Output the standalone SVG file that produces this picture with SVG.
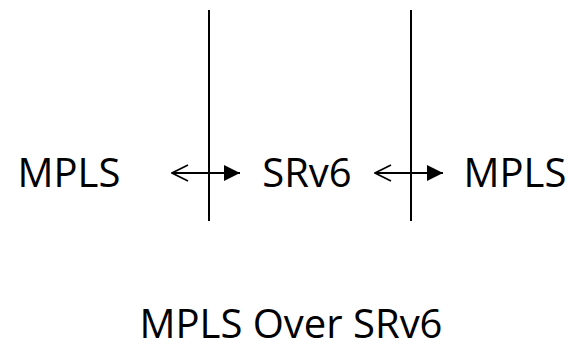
<svg xmlns="http://www.w3.org/2000/svg" width="576" height="347" viewBox="0 0 576 347">
<style>
text{font-family:"Open Sans","Noto Sans","Liberation Sans",sans-serif;font-size:40px;fill:#000;text-anchor:middle}
.ln{stroke:#000;stroke-width:2;fill:none}
</style>
<defs>
<marker id="filled" viewBox="0 0 16 16" refX="16" refY="8" markerWidth="16" markerHeight="16" markerUnits="userSpaceOnUse" orient="auto">
<path d="M0,0 L16,8 L0,16 Z" fill="#000"/>
</marker>
<marker id="open" viewBox="0 0 18 18" refX="1" refY="9" markerWidth="18" markerHeight="18" markerUnits="userSpaceOnUse" orient="auto">
<path d="M17,1 L1,9 L17,17" fill="none" stroke="#000" stroke-width="1.6"/>
</marker>
</defs>
<rect width="576" height="347" fill="#fff"/>
<g id="dividers">
<line class="ln" x1="209" y1="10" x2="209" y2="221"/>
<line class="ln" x1="411" y1="10" x2="411" y2="221"/>
</g>
<g id="mpls-left"><text x="69" y="187">MPLS</text></g>
<g id="srv6"><text x="307" y="187">SRv6</text></g>
<g id="mpls-right"><text x="515" y="187">MPLS</text></g>
<g id="connectors">
<line class="ln" x1="172" y1="173" x2="240" y2="173" marker-start="url(#open)" marker-end="url(#filled)"/>
<line class="ln" x1="375" y1="173" x2="443" y2="173" marker-start="url(#open)" marker-end="url(#filled)"/>
</g>
<g id="title"><text x="291" y="338">MPLS Over SRv6</text></g>
</svg>
